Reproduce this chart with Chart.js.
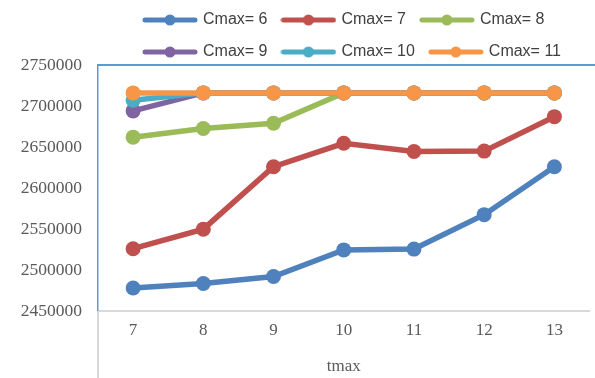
<!DOCTYPE html>
<html>
<head>
<meta charset="utf-8">
<script src="https://cdn.jsdelivr.net/npm/chart.js@4/dist/chart.umd.min.js"></script>
<style>
  html, body { margin: 0; padding: 0; background: #fff; overflow: hidden; }
  #wrap { position: relative; width: 597px; height: 378px; }
</style>
</head>
<body>
<div id="wrap"><canvas id="c"></canvas></div>
<script>
// tmax values along the category axis
const tmaxLabels = ['7', '8', '9', '10', '11', '12', '13'];

// one series per Cmax setting
const seriesNames = ['Cmax= 6', 'Cmax= 7', 'Cmax= 8', 'Cmax= 9', 'Cmax= 10', 'Cmax= 11'];
const cmax6  = [2478000, 2483500, 2492000, 2524500, 2525500, 2567500, 2626000];
const cmax7  = [2526000, 2549800, 2626000, 2654500, 2644500, 2645000, 2687000];
const cmax8  = [2662000, 2672500, 2679000, 2716000, 2716000, 2716000, 2716000];
const cmax9  = [2694000, 2716000, 2716000, 2716000, 2716000, 2716000, 2716000];
const cmax10 = [2707000, 2716000, 2716000, 2716000, 2716000, 2716000, 2716000];
const cmax11 = [2716000, 2716000, 2716000, 2716000, 2716000, 2716000, 2716000];

// value axis ticks
const yTicks = [2450000, 2500000, 2550000, 2600000, 2650000, 2700000, 2750000];

const seriesValues = [cmax6, cmax7, cmax8, cmax9, cmax10, cmax11];
const colors = ['#4f81bd', '#c0504d', '#9bbb59', '#8064a2', '#4bacc6', '#f79646'];

// legend swatch: a thick line with a round marker in the middle
function makeSwatch(color) {
  const cv = document.createElement('canvas');
  cv.width = 56; cv.height = 14;
  const g = cv.getContext('2d');
  g.strokeStyle = color;
  g.lineWidth = 5;
  g.lineCap = 'round';
  g.beginPath(); g.moveTo(3, 7); g.lineTo(53, 7); g.stroke();
  g.fillStyle = color;
  g.beginPath(); g.arc(28, 7, 5.5, 0, Math.PI * 2); g.fill();
  return cv;
}
const swatches = colors.map(makeSwatch);

const datasets = seriesNames.map((name, i) => ({
  label: name,
  data: seriesValues[i],
  borderColor: colors[i],
  backgroundColor: colors[i],
  borderWidth: 5.5,
  pointRadius: 7.5,
  pointHoverRadius: 7.5,
  pointBorderWidth: 0,
  pointBackgroundColor: colors[i],
  tension: 0,
  fill: false,
  order: seriesNames.length - i   // later series sit on top
}));

const LEGEND_WIDTH = 499;   // legend rows wrap within the plot width
const LEGEND_HEIGHT = 69;
const LEGEND_INDENT = 31;   // legend block starts a little right of the plot's left edge

// legend sizing/placement, blue top edge, grey stub under the left axis
const framePlugin = {
  id: 'frame',
  beforeLayout(chart) {
    const lg = chart.legend;
    if (lg && !lg._fixedFit) {
      const fit = lg.fit;
      lg.fit = function () {
        this.maxWidth = Math.min(this.maxWidth, LEGEND_WIDTH);
        fit.call(this);
        this.height = LEGEND_HEIGHT;
      };
      lg._fixedFit = true;
    }
  },
  afterLayout(chart) {
    const lg = chart.legend;
    if (lg) { lg.left = chart.chartArea.left + LEGEND_INDENT; lg.right = chart.chartArea.right; }
  },
  afterDraw(chart) {
    const { ctx, chartArea: a } = chart;
    ctx.save();
    ctx.strokeStyle = '#5b9bd5';
    ctx.lineWidth = 2;
    ctx.beginPath(); ctx.moveTo(a.left - 1, a.top); ctx.lineTo(chart.width, a.top); ctx.stroke();
    ctx.strokeStyle = '#d9d9d9';
    ctx.lineWidth = 2;
    ctx.beginPath(); ctx.moveTo(a.left, a.bottom); ctx.lineTo(a.left, chart.height); ctx.stroke();
    ctx.restore();
  }
};

new Chart(document.getElementById('c'), {
  type: 'line',
  data: { labels: tmaxLabels, datasets },
  plugins: [framePlugin],
  options: {
    responsive: true,
    maintainAspectRatio: false,
    animation: false,
    layout: { padding: { top: -4, left: 0, right: 0, bottom: 0 } },
    plugins: {
      tooltip: { enabled: false },
      legend: {
        position: 'top',
        align: 'start',
        labels: {
          usePointStyle: true,
          pointStyleWidth: 50,
          padding: 16,
          color: '#404040',
          font: { family: 'Liberation Sans', size: 16 },
          generateLabels(chart) {
            return chart.data.datasets.map((ds, i) => ({
              text: ds.label,
              fillStyle: colors[i],
              strokeStyle: colors[i],
              lineWidth: 0,
              pointStyle: swatches[i],
              hidden: false,
              datasetIndex: i,
              fontColor: '#404040'
            }));
          }
        }
      }
    },
    scales: {
      x: {
        type: 'category',
        offset: true,
        grid: { display: false, drawTicks: false },
        border: { display: true, color: '#d9d9d9', width: 2 },
        ticks: {
          padding: 9,
          color: '#595959',
          font: { family: 'Liberation Serif', size: 17 }
        },
        title: {
          display: true,
          text: 'tmax',
          color: '#595959',
          font: { family: 'Liberation Serif', size: 17 },
          padding: { top: 0, bottom: 1 }
        },
        afterFit(scale) { scale.height = 67; }
      },
      y: {
        min: yTicks[0],
        max: yTicks[yTicks.length - 1],
        afterBuildTicks(scale) { scale.ticks = yTicks.map(v => ({ value: v })); },
        grid: { display: false, drawTicks: false },
        border: { display: true, color: '#5b9bd5', width: 1.5 },
        ticks: {
          padding: 16,
          color: '#595959',
          font: { family: 'Liberation Serif', size: 17.5 },
          callback: v => String(v)
        },
        afterFit(scale) { scale.width = 98; }
      }
    }
  }
});
</script>
</body>
</html>
